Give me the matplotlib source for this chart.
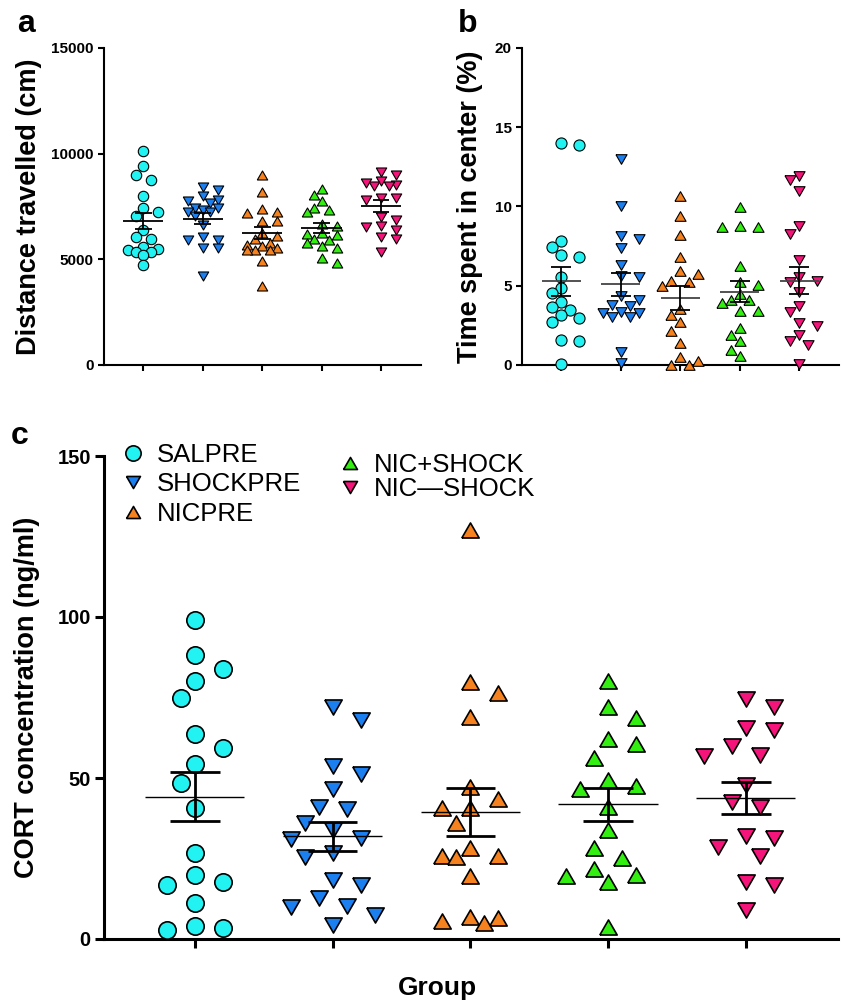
import numpy as np
import matplotlib
matplotlib.use('Agg')
import matplotlib.pyplot as plt
from matplotlib.lines import Line2D

plt.rcParams['font.family'] = ['Liberation Sans', 'DejaVu Sans']

groups = ['SALPRE', 'SHOCKPRE', 'NICPRE', 'NIC+SHOCK', 'NIC\u2014SHOCK']
colors = ['#22f2f2', '#1c7ff0', '#f5821e', '#33ee11', '#f5157a']

# equilateral-ish triangles like GraphPad
tri_up = [(-1, -0.866), (1, -0.866), (0, 0.866), (-1, -0.866)]
tri_down = [(-1, 0.866), (1, 0.866), (0, -0.866), (-1, 0.866)]
markers = ['o', tri_down, tri_up, tri_up, tri_down]

# a: distance travelled (cm)
dist_salpre = [10110, 9400, 8975, 8740, 8010, 7430, 7220, 7030, 6370, 6060, 5960, 5580, 5470, 5430, 5340, 5340, 5200, 4750]
dist_shockpre = [8420, 8265, 7980, 7820, 7745, 7665, 7430, 7430, 7320, 7220, 7220, 7065, 6640, 6060, 5930, 5930, 5540, 5540, 4195]
dist_nicpre = [9006, 8170, 7380, 7220, 7190, 6800, 6800, 6250, 6090, 5960, 5770, 5690, 5620, 5540, 5460, 5430, 5430, 4900, 3720]
dist_nicshock = [8330, 8060, 7745, 7430, 7320, 7240, 6690, 6590, 6250, 6210, 6170, 5960, 5930, 5770, 5650, 5540, 5060, 4830]
dist_nicnoshock = [9117, 9006, 8690, 8612, 8533, 8454, 8454, 7900, 7900, 7820, 7000, 6845, 6560, 6530, 6400, 6060, 5960, 5330]

# b: time spent in center (%)
center_salpre = [13.9, 14.0, 7.8, 7.44, 6.96, 6.81, 5.55, 4.86, 4.54, 3.95, 3.66, 3.49, 3.18, 2.97, 2.69, 1.56, 1.49, 0.08]
center_shockpre = [13.0, 10.05, 8.16, 7.95, 7.38, 6.33, 5.6, 5.53, 4.37, 4.12, 3.81, 3.74, 3.32, 3.28, 3.28, 3.0, 3.0, 0.8, 0.13]
center_nicpre = [10.64, 9.42, 8.22, 6.81, 5.91, 5.76, 5.28, 5.0, 5.22, 3.53, 3.18, 2.69, 2.12, 1.39, 0.5, 0.0, 0.23, 0.0]
center_nicshock = [9.97, 8.79, 8.71, 8.71, 6.23, 5.07, 5.22, 3.91, 4.08, 4.5, 4.12, 3.39, 3.39, 2.33, 1.91, 1.49, 0.93, 0.55]
center_nicnoshock = [11.95, 11.65, 10.96, 8.79, 8.29, 6.6, 5.32, 5.55, 5.22, 4.58, 3.7, 3.32, 2.44, 2.65, 1.91, 1.28, 1.49, 0.08]

# c: CORT concentration (ng/ml)
cort_salpre = [99.2, 88.1, 83.9, 80.2, 74.9, 63.8, 59.4, 54.3, 48.6, 40.6, 26.7, 20.0, 17.6, 16.8, 11.2, 2.8, 4.0, 3.3]
cort_shockpre = [72.2, 67.9, 53.8, 51.2, 46.5, 40.4, 41.0, 36.0, 33.7, 31.5, 31.0, 26.8, 25.6, 16.7, 18.2, 12.6, 10.4, 9.8, 7.3, 4.2]
cort_nicpre = [127.0, 79.7, 76.4, 69.0, 47.1, 43.4, 40.8, 40.8, 36.0, 28.2, 25.9, 25.9, 25.4, 19.6, 5.0, 6.7, 5.7, 6.5]
cort_nicshock = [80.0, 71.9, 68.6, 62.1, 60.7, 56.2, 47.4, 49.3, 46.5, 41.0, 33.7, 28.4, 25.1, 21.7, 19.5, 19.8, 17.6, 3.7]
cort_nicnoshock = [74.6, 71.9, 64.9, 65.5, 59.9, 57.1, 56.9, 47.9, 42.7, 41.0, 32.1, 31.5, 28.7, 25.9, 17.8, 16.7, 8.9]

dist = [dist_salpre, dist_shockpre, dist_nicpre, dist_nicshock, dist_nicnoshock]
center = [center_salpre, center_shockpre, center_nicpre, center_nicshock, center_nicnoshock]
cort = [cort_salpre, cort_shockpre, cort_nicpre, cort_nicshock, cort_nicnoshock]

W, H = 842, 1007
fig = plt.figure(figsize=(W / 100, H / 100), dpi=100)


def px_axes(x0, y0, x1, y1):
    return fig.add_axes([x0 / W, 1 - y1 / H, (x1 - x0) / W, (y1 - y0) / H])


def swarm(ax, vals, xc, step, mind, kmax):
    # column scatter: nearest free column within +-kmax, else the least crowded one
    vals = np.asarray(vals, float)
    ys = ax.transData.transform(np.column_stack([np.full(len(vals), xc), vals]))[:, 1]
    offs = np.zeros(len(vals))
    placed = []
    cols = [0]
    for k in range(1, kmax + 1):
        cols += [-k, k] if k % 2 else [k, -k]
    for i in np.argsort(-vals):
        best, best_d = None, -1
        for k in cols:
            c = k * step
            d = min([np.hypot(c - px, ys[i] - py) for px, py in placed] + [1e9])
            if d >= mind:
                best = c
                break
            if d > best_d:
                best, best_d = c, d
        offs[i] = best
        placed.append((best, ys[i]))
    x0 = ax.transData.transform((xc, 0))[0]
    return ax.transData.inverted().transform(np.column_stack([x0 + offs, ys]))[:, 0]


def panel(ax, data, ylim, yticks, ms, mew, step, mind, kmax, mean_w, sem_w, lw_mean, lw_sem,
          spine_w, tick_len, tick_fs, mean_color='black'):
    ax.set_xlim(0.34, 5.67)
    ax.set_ylim(*ylim)
    for s in ['top', 'right']:
        ax.spines[s].set_visible(False)
    for s in ['left', 'bottom']:
        ax.spines[s].set_linewidth(spine_w)
    ax.set_yticks(yticks)
    ax.set_xticks(range(1, 6))
    ax.set_xticklabels([])
    ax.tick_params(width=spine_w, length=tick_len, labelsize=tick_fs, pad=3)
    for lab in ax.get_yticklabels():
        lab.set_fontweight('bold')
    for g, vals in enumerate(data):
        xc = g + 1
        xs = swarm(ax, vals, xc, step, mind, kmax)
        ax.plot(xs, vals, linestyle='none', marker=markers[g], markersize=ms,
                markerfacecolor=colors[g], markeredgecolor='black', markeredgewidth=mew,
                clip_on=False, zorder=3)
        m = np.mean(vals)
        se = np.std(vals, ddof=1) / np.sqrt(len(vals))
        ax.hlines(m, xc - mean_w, xc + mean_w, color=mean_color, lw=lw_mean, zorder=4)
        ax.vlines(xc, m - se, m + se, color='black', lw=lw_sem, zorder=4)
        ax.hlines([m - se, m + se], xc - sem_w, xc + sem_w, color='black', lw=lw_sem, zorder=4)


axA = px_axes(104, 48, 421, 365)
axB = px_axes(522, 48, 839, 365)
axC = px_axes(104, 456, 838, 939)

panel(axA, dist, (0, 15000), [0, 5000, 10000, 15000], 7.5, 0.8, 7.5, 9, 2,
      0.34, 0.14, 1.3, 1.3, 1.5, 4.3, 11)
panel(axB, center, (0, 20), [0, 5, 10, 15, 20], 8.0, 0.8, 9.0, 10, 2,
      0.33, 0.17, 1.3, 1.3, 1.5, 4.3, 11, mean_color='#444444')
panel(axC, cort, (0, 150), [0, 50, 100, 150], 12.5, 1.2, 14, 20, 3,
      0.36, 0.18, 1.0, 2.0, 2.2, 6.5, 14.5)

axA.set_ylabel('Distance travelled (cm)', fontsize=19.5, fontweight='bold')
axA.yaxis.set_label_coords(-0.196, 0.5)
axB.set_ylabel('Time spent in center (%)', fontsize=19.5, fontweight='bold')
axB.yaxis.set_label_coords(-0.123, 0.5)
axC.set_ylabel('CORT concentration (ng/ml)', fontsize=19.5, fontweight='bold')
axC.yaxis.set_label_coords(-0.087, 0.5)
axC.set_xlabel('Group', fontsize=19, fontweight='bold')
axC.xaxis.set_label_coords(0.454, -0.077)

fig.text(17 / W, 1 - 32 / H, 'a', fontsize=23, fontweight='bold', va='baseline')
fig.text(458 / W, 1 - 32 / H, 'b', fontsize=23, fontweight='bold', va='baseline')
fig.text(11 / W, 1 - 444 / H, 'c', fontsize=23, fontweight='bold', va='baseline')


def handle(g, ms):
    return Line2D([], [], linestyle='none', marker=markers[g], markersize=ms,
                  markerfacecolor=colors[g], markeredgecolor='black', markeredgewidth=1.2)


leg1 = fig.legend([handle(0, 11), handle(1, 10), handle(2, 10)], groups[:3],
                  loc='upper left', bbox_to_anchor=(121 / W, 1 - 443 / H),
                  frameon=False, fontsize=18.5, borderpad=0, borderaxespad=0,
                  handlelength=0.9, handletextpad=0.5, labelspacing=0.21)
leg2 = fig.legend([handle(3, 10), handle(4, 10)], groups[3:],
                  loc='upper left', bbox_to_anchor=(338 / W, 1 - 453 / H),
                  frameon=False, fontsize=18.5, borderpad=0, borderaxespad=0,
                  handlelength=0.9, handletextpad=0.5, labelspacing=0.0)

fig.savefig('out.png', dpi=100)
